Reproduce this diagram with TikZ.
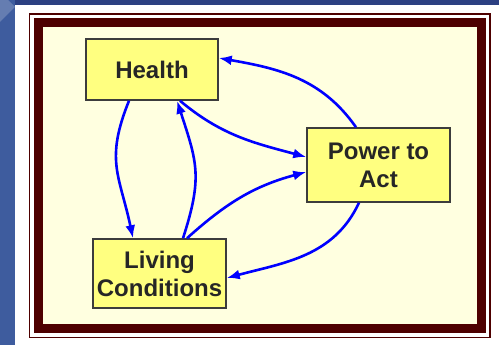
\documentclass[tikz,border=0pt]{standalone}
\usepackage{fontspec}
\setmainfont{Liberation Sans}
\usepackage{tikz}
\usetikzlibrary{arrows.meta,positioning}
\definecolor{slideblue}{RGB}{62,92,158}
\definecolor{slidenavy}{RGB}{44,64,130}
\definecolor{framered}{RGB}{78,0,0}
\definecolor{paper}{RGB}{255,255,224}
\definecolor{boxyellow}{RGB}{255,255,128}
\definecolor{boxline}{RGB}{60,60,60}
\tikzstyle{factor} = [rectangle, draw=boxline, line width=1.5pt, fill=boxyellow,
                      align=center, text=black!85, font=\bfseries\fontsize{24}{28}\selectfont]
\tikzstyle{flow}   = [draw=blue, line width=2.6pt, ->]

\begin{document}
\begin{tikzpicture}[x=1pt, y=1pt, >={Latex[length=13pt,width=10pt]}]
		% slide background and frame
		\useasboundingbox (0,0) rectangle (499,345);
		\fill[slideblue] (0,0) rectangle (499,345);
		\fill[slidenavy] (15,340) rectangle (499,345);
		\fill[slideblue!80!white] (0,345) -- (8,345) -- (15,338) -- (0,323) -- cycle;
		\fill[white] (15,0) rectangle (499,340);
		\draw[framered, line width=1.5pt] (29.5,331) rectangle (490,7.5);
		\fill[paper] (43,21) rectangle (477,318);
		\draw[framered, line width=9pt] (38.5,16.5) rectangle (481,322.5);
		% factors
		\node[factor, minimum width=132pt, minimum height=61pt] (hl) at (152,275.5) {Health};
		\node[factor, minimum width=143pt, minimum height=74pt] (pw) at (378.5,180) {Power to\\Act};
		\node[factor, minimum width=133pt, minimum height=69pt] (lc) at (159.5,71.5) {Living\\Conditions};
		% links
		\draw[flow] ([xshift=-23pt]hl.south) to[out=248, in=102, looseness=1.2] ([xshift=-26.5pt]lc.north);
		\draw[flow] ([xshift=23.5pt]lc.north) to[out=72, in=-72, looseness=1.2] ([xshift=25pt]hl.south);
		\draw[flow] ([xshift=28pt]hl.south) to[out=-40, in=165] ([yshift=8pt]pw.west);
		\draw[flow] ([xshift=27.5pt]lc.north) to[out=42, in=195] ([yshift=-7pt]pw.west);
		\draw[flow] ([xshift=-22.5pt]pw.north) to[out=125, in=-10] ([yshift=11.5pt]hl.east);
		\draw[flow] ([xshift=-19.5pt]pw.south) to[out=-115, in=15] ([yshift=-4.5pt]lc.east);
\end{tikzpicture}
\end{document}
